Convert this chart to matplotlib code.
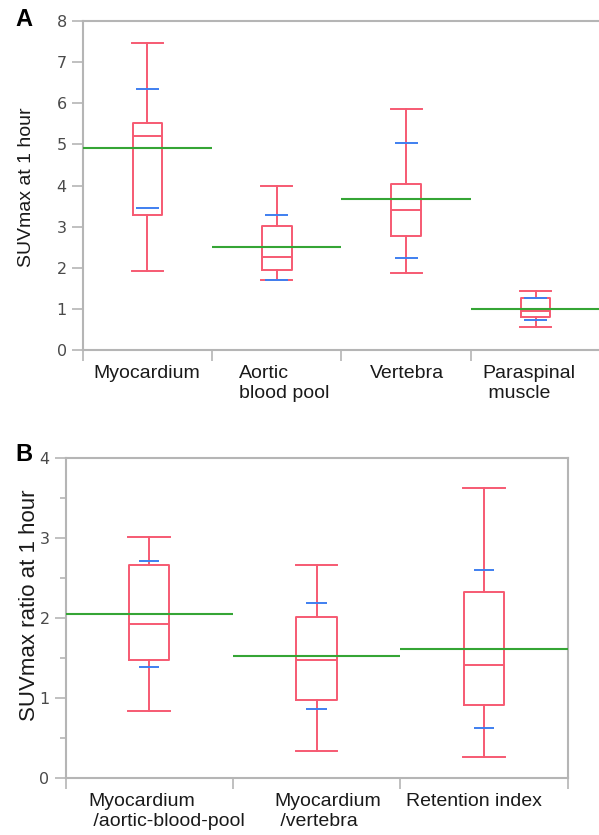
import numpy as np
import matplotlib.pyplot as plt

# panel A: SUVmax at 1 hour
a_labels = ['Myocardium', 'Aortic\nblood pool', 'Vertebra', 'Paraspinal\n muscle']
a_whislo = [1.91, 1.71, 1.87, 0.57]
a_q1 = [3.29, 1.95, 2.78, 0.81]
a_med = [5.21, 2.25, 3.40, 0.95]
a_q3 = [5.53, 3.01, 4.03, 1.27]
a_whishi = [7.47, 4.00, 5.85, 1.44]
a_mean = [4.90, 2.51, 3.67, 1.00]
a_sd_hi = [6.35, 3.29, 5.03, 1.27]
a_sd_lo = [3.46, 1.69, 2.24, 0.73]

# panel B: SUVmax ratio at 1 hour
b_labels = ['Myocardium\n /aortic-blood-pool', 'Myocardium\n /vertebra', 'Retention index']
b_whislo = [0.84, 0.34, 0.26]
b_q1 = [1.475, 0.98, 0.91]
b_med = [1.92, 1.475, 1.41]
b_q3 = [2.66, 2.01, 2.325]
b_whishi = [3.01, 2.66, 3.62]
b_mean = [2.05, 1.525, 1.61]
b_sd_hi = [2.71, 2.18, 2.60]
b_sd_lo = [1.39, 0.86, 0.625]

RED = '#f65a72'
BLUE = '#3f7ff0'
GREEN = '#35a535'
GRAY = '#b5b5b5'

W, H = 599, 835
fig = plt.figure(figsize=(W / 100, H / 100), dpi=100)


def draw_panel(ax, labels, whislo, q1, med, q3, whishi, mean, sd_hi, sd_lo,
               box_w, sd_w, ymax, label_x):
    n = len(labels)
    pos = np.arange(n) + 0.5
    stats = []
    for i in range(n):
        stats.append(dict(whislo=whislo[i], q1=q1[i], med=med[i], q3=q3[i],
                          whishi=whishi[i], fliers=[]))
    lp = dict(color=RED, linewidth=1.4)
    ax.bxp(stats, positions=pos, widths=box_w, capwidths=box_w + 0.01,
           showfliers=False, boxprops=lp, whiskerprops=lp, capprops=lp,
           medianprops=lp, manage_ticks=False)
    # mean lines span the whole category
    ax.hlines(mean, pos - 0.5, pos + 0.5, color=GREEN, linewidth=1.5, zorder=3)
    # mean +/- sd marks
    ax.hlines(sd_hi, pos - sd_w / 2, pos + sd_w / 2, color=BLUE, linewidth=1.4, zorder=4)
    ax.hlines(sd_lo, pos - sd_w / 2, pos + sd_w / 2, color=BLUE, linewidth=1.4, zorder=4)

    ax.set_xlim(0, n)
    ax.set_ylim(0, ymax)
    ax.set_xticks(np.arange(n + 1))
    ax.set_xticklabels([])
    ax.set_yticks(np.arange(ymax + 1))
    ax.tick_params(axis='both', direction='out', length=8, width=1.2, color=GRAY,
                   labelsize=11.5, labelcolor='#4a4a4a', pad=3.5)
    ax.tick_params(axis='y', which='minor', length=4, width=1.2, color=GRAY)
    for s in ax.spines.values():
        s.set_color(GRAY)
        s.set_linewidth(1.5)
    for i, lab in enumerate(labels):
        ax.annotate(lab, xy=(label_x[i], 0), xycoords=('data', 'axes fraction'),
                    xytext=(0, -15), textcoords='offset pixels', ha='left', va='top',
                    fontsize=14, family='Liberation Sans', color='#1a1a1a')


axA = fig.add_axes([82.7 / W, 1 - 350 / H, (600.3 - 82.7) / W, (350 - 21) / H])
draw_panel(axA, a_labels, a_whislo, a_q1, a_med, a_q3, a_whishi, a_mean,
           a_sd_hi, a_sd_lo, 0.23, 0.18, 8, [0.08, 1.21, 2.22, 3.09])

axB = fig.add_axes([65.5 / W, 1 - 778.3 / H, (567.5 - 65.5) / W, (778.3 - 457.5) / H])
draw_panel(axB, b_labels, b_whislo, b_q1, b_med, b_q3, b_whishi, b_mean,
           b_sd_hi, b_sd_lo, 0.24, 0.12, 4, [0.137, 1.25, 2.035])
axB.set_yticks(np.arange(0.5, 4, 1.0), minor=True)

fig.text(27 / W, 1 - 187 / H, 'SUVmax at 1 hour', rotation=90, ha='center', va='center',
         fontsize=14, family='Liberation Sans', color='#1a1a1a')
fig.text(30 / W, 1 - 605 / H, 'SUVmax ratio at 1 hour', rotation=90, ha='center',
         va='center', fontsize=16, family='Liberation Sans', color='#1a1a1a')
fig.text(15 / W, 1 - 8 / H, 'A', ha='left', va='top', fontsize=17, fontweight='bold',
         family='Liberation Sans')
fig.text(15 / W, 1 - 443 / H, 'B', ha='left', va='top', fontsize=17, fontweight='bold',
         family='Liberation Sans')

fig.savefig('out.png', dpi=100)
